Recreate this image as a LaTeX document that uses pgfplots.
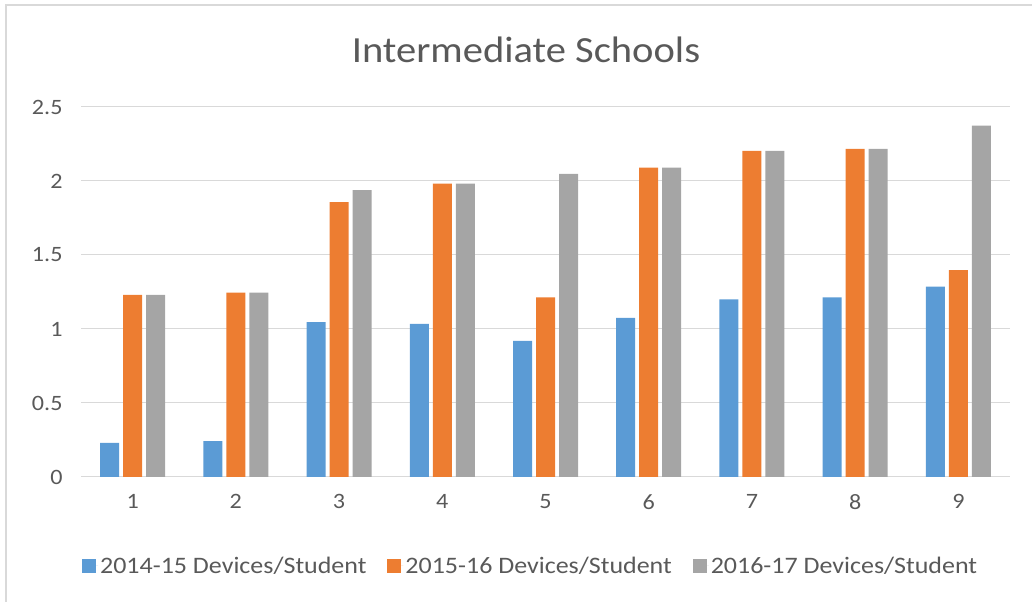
\documentclass[border=0pt]{standalone}
\usepackage{fontspec}
\setmainfont{Carlito}[FakeStretch=1.1]
\usepackage{pgfplots}
\pgfplotsset{compat=1.18}
\definecolor{cblue}{HTML}{5B9BD5}
\definecolor{corange}{HTML}{ED7D31}
\definecolor{cgray}{HTML}{A5A5A5}
\definecolor{txt}{HTML}{595959}
\definecolor{gridc}{HTML}{D9D9D9}
\begin{document}
\begin{tikzpicture}[x=1bp,y=1bp]
\useasboundingbox (0,0) rectangle (1032,602);
\draw[gridc, line width=1.5bp] (6,0) -- (6,597) -- (1032,597);
\node[text=txt, font=\fontsize{37}{40}\selectfont] at (526,552) {Intermediate Schools};
\begin{axis}[at={(81bp,125bp)}, anchor=south west, scale only axis,
  width=929bp, height=370bp,
  xmin=0.5, xmax=9.5, ymin=0, ymax=2.5,
  xtick={1,2,3,4,5,6,7,8,9},
  xticklabels={1,2,3,4,5,6,7,8,9},
  ytick={0,0.5,1,1.5,2,2.5},
  yticklabels={0,0.5,1,1.5,2,2.5},
  ymajorgrids, grid style={gridc, line width=1bp},
  axis x line=bottom, axis y line=left,
  x axis line style={gridc, line width=1bp, -},
  y axis line style={draw=none},
  major tick length=0pt,
  tick style={draw=none},
  ticklabel style={font=\fontsize{22}{24}\selectfont, text=txt},
  yticklabel style={xshift=-15bp},
  xticklabel style={yshift=-14bp},
  legend style={at={(0.484,-0.24)}, anchor=center, draw=none, fill=none,
    legend columns=3, font=\fontsize{23.7}{25}\selectfont, text=txt,
    /tikz/every even column/.append style={column sep=19bp}},
  legend image code/.code={\fill[#1] (0bp,-7bp) rectangle (14bp,7bp); \path (0bp,0bp) -- (16bp,0bp);},
]
\addplot[ybar, bar width=19bp, bar shift=-23bp, fill=cblue, draw=none]
  coordinates {(1,0.23) (2,0.243) (3,1.047) (4,1.034) (5,0.92) (6,1.075) (7,1.20) (8,1.214) (9,1.286)};
\addplot[ybar, bar width=19bp, bar shift=0bp, fill=corange, draw=none]
  coordinates {(1,1.231) (2,1.245) (3,1.857) (4,1.983) (5,1.214) (6,2.09) (7,2.203) (8,2.217) (9,1.398)};
\addplot[ybar, bar width=19bp, bar shift=23bp, fill=cgray, draw=none]
  coordinates {(1,1.231) (2,1.245) (3,1.938) (4,1.983) (5,2.048) (6,2.09) (7,2.203) (8,2.217) (9,2.374)};
\legend{2014-15 Devices/Student, 2015-16 Devices/Student, 2016-17 Devices/Student}
\end{axis}
\end{tikzpicture}
\end{document}
